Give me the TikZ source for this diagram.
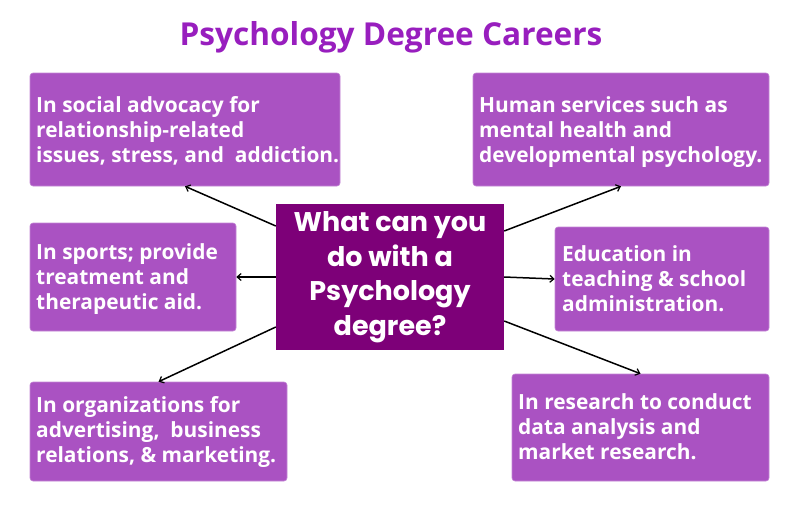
\documentclass[tikz,border=0pt]{standalone}
\usepackage{fontspec}
\usetikzlibrary{arrows.meta}
\newfontfamily\boxfont{Open Sans}
\newfontfamily\centerfont{Poppins}
\definecolor{boxpurple}{RGB}{170,82,194}
\definecolor{centerpurple}{RGB}{125,0,120}
\definecolor{titlepurple}{RGB}{152,30,190}
\begin{document}
\begin{tikzpicture}[x=1pt,y=-1pt,
  careerbox/.style={draw=boxpurple!70!white, line width=0.6pt, fill=boxpurple, rounded corners=3pt, inner sep=0pt},
  boxtext/.style={anchor=base west, align=left, inner sep=0pt, text=white, font=\boxfont\bfseries\fontsize{20.9}{24.8}\selectfont},
  link/.style={draw=black, line width=1.5pt, -{Straight Barb[length=4pt,width=7pt,line width=1.2pt]}}]
\useasboundingbox (0,0) rectangle (800,504);
% title
\node[anchor=base, text=titlepurple, font=\boxfont\bfseries\fontsize{31.6}{36}\selectfont] (title) at (391,45) {Psychology Degree Careers};
% boxes
\node[careerbox, minimum width=310pt, minimum height=113pt] (b1) at (185,129.5) {};
\node[careerbox, minimum width=206pt, minimum height=108pt] (b2) at (133,277) {};
\node[careerbox, minimum width=257pt, minimum height=99pt] (b3) at (158.5,431.5) {};
\node[careerbox, minimum width=296pt, minimum height=113pt] (b4) at (621,129.5) {};
\node[careerbox, minimum width=214pt, minimum height=104pt] (b5) at (662,279) {};
\node[careerbox, minimum width=257pt, minimum height=107pt] (b6) at (640.5,427.5) {};
% center
\node[fill=centerpurple, minimum width=228pt, minimum height=146pt, inner sep=0pt] (c) at (390,277) {};
\node[align=center, text=white, inner sep=0pt, font=\centerfont\bfseries\fontsize{27}{34.5}\selectfont] (ct) at (390,277) {What can you\\do with a\\Psychology\\degree?};
% texts
\node[boxtext] (t1) at (36,162) {In social advocacy for\\relationship-related\\issues, stress, and\ \ addiction.};
\node[boxtext] (t2) at (36,309) {In sports; provide\\treatment and\\therapeutic aid.};
\node[boxtext] (t3) at (36,462) {In organizations for\\advertising,\ \ business\\relations, \& marketing.};
\node[boxtext] (t4) at (479,162) {Human services such as\\mental health and\\developmental psychology.};
\node[boxtext] (t5) at (562,311) {Education in\\teaching \& school\\administration.};
\node[boxtext] (t6) at (518,459) {In research to conduct\\data analysis and\\market research.};
% connectors
\draw[link] ([yshift=51pt]c.west) -- (b1.south);
\draw[link] (c.west) -- (b2.east);
\draw[link] ([yshift=-50pt]c.west) -- (b3.north);
\draw[link] ([yshift=46pt]c.east) -- (b4.south);
\draw[link] (c.east) -- (b5.west);
\draw[link] ([yshift=-44pt]c.east) -- (b6.north);
\end{tikzpicture}
\end{document}
